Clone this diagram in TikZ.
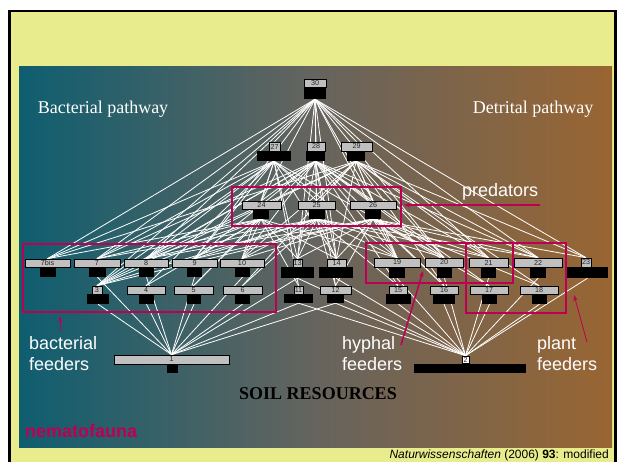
\documentclass[tikz,border=0pt]{standalone}
\usepackage{fontspec}
\setmainfont{Liberation Serif}
\setsansfont{Liberation Sans}
\usetikzlibrary{arrows.meta}
\definecolor{bgyellow}{RGB}{232,236,140}
\definecolor{tealL}{RGB}{14,94,112}
\definecolor{midC}{RGB}{102,100,94}
\definecolor{brownR}{RGB}{153,101,50}
\definecolor{mag}{RGB}{190,0,85}
\definecolor{boxgray}{RGB}{192,192,192}
\definecolor{numgray}{RGB}{40,40,40}
\pgfdeclarelayer{bglayer}
\pgfdeclarelayer{weblayer}
\pgfsetlayers{bglayer,weblayer,main}
\begin{document}
\begin{tikzpicture}[x=1pt,y=-1pt,
  graybox/.style={draw=black, line width=0.7pt, fill=boxgray, inner sep=0pt,
    font=\sffamily\fontsize{7.2}{7.2}\selectfont, text=numgray},
  blackbox/.style={fill=black, inner sep=0pt},
  web/.style={white, line width=0.8pt},
  groupbox/.style={draw=mag, line width=1.6pt},
  magarrow/.style={draw=mag, -{Stealth[length=6pt,width=4.5pt]}},
  bigserif/.style={font=\fontsize{18}{18}\selectfont, text=white, inner sep=0pt},
  bigsans/.style={font=\sffamily\fontsize{18}{18}\selectfont, text=white, inner sep=0pt, anchor=base west},
]
\useasboundingbox (0,0) rectangle (618,461);
\begin{pgfonlayer}{bglayer}
  \fill[white] (0,0) rectangle (618,461);
  \filldraw[fill=bgyellow, draw=black, line width=2.3pt] (9.5,11) rectangle (615.5,475);
  \shade[left color=tealL, right color=brownR, middle color=midC] (19,66) rectangle (612,447);
\end{pgfonlayer}

% nodes: name / gray x,y,w,h / black x,y,w,h
\foreach \n/\gx/\gy/\gw/\gh/\bx/\by/\bw/\bh in {
  30/315/83/22/8/315/93/22/12,
  27/274.5/146.5/11/9/274/156/34/10,
  28/316/146.5/18/9/315.5/156/19/10,
  29/356.5/146.5/31/9/356/156/18/10,
  24/261.5/205/39/8/261/214/16/10,
  25/316.5/205/37/8/317/214/16/10,
  26/373/205/46/8/373/214/16/10,
  7bis/47.5/263/45/8/48/272/16/10,
  7/97/263/46/8/97.5/272/17/10,
  8/146/263/44/8/146.5/272/15/10,
  9/194.5/263/45/8/194.5/272/15/10,
  10/242/263/44/8/242.5/272/15/10,
  13/297.5/263/9/8/297.5/272.5/33/11,
  14/336.5/263/19/8/336/272.5/34/11,
  19/397/262.5/46/9/397/272.5/16/11,
  20/444/262.5/38/9/444.5/272.5/15/11,
  21/488.5/262.5/39/9/488.5/272.5/15/11,
  22/538/262.5/48/9/538/272.5/16/11,
  23/586/262.5/10/9/587.5/272.5/41/11,
  3/97/290/10/8/98/299/22/10,
  4/146/290/38/8/146.5/299/15/10,
  5/193.5/290/39/8/194/299/14/10,
  6/242.5/290/39/8/242.5/299/15/10,
  11/298.5/290/9/8/298.5/298.5/29/9,
  12/335.5/290/31/8/335.5/298.5/17/9,
  15/398/290/18/8/398.5/299/25/10,
  16/444/290/28/8/444/299/22/10,
  17/489/290/38/8/489.5/299/15/10,
  18/539/290/38/8/539.5/299/15/10,
  1/171.5/359.5/115/9/172.5/368.5/11/9}
{
  \node[blackbox, minimum width=\bw pt, minimum height=\bh pt] (b\n) at (\bx,\by) {};
  \node[graybox, minimum width=\gw pt, minimum height=\gh pt] (g\n) at (\gx,\gy) {\n};
}
\node[blackbox, minimum width=112pt, minimum height=9pt] (b2) at (470,368.5) {};
\node[graybox, fill=white, minimum width=7pt, minimum height=7pt] (g2) at (465.5,359.5) {2};

% food web links
\begin{pgfonlayer}{weblayer}
  \foreach \p/\qs in {
    30/{27,28,29,24,25,26,7bis,7,8,9,3,13,14,19,20,21,22,23},
    27/{24,25,7bis,7,8,9,10,3,4,13,14,11,19,20},
    28/{24,25,26,7,8,9,10,3,5,13,14,12,19,20,21,22,15,16,17},
    29/{25,26,7bis,8,10,3,6,14,19,20,21,22,23,16,18},
    24/{7bis,7,8,9,10,3,4,5,13,14,11,19},
    25/{7,8,9,10,3,6,13,14,12,19,20,21,22,15},
    26/{8,9,10,3,13,14,12,19,20,21,22,23,16,17,18}}
  {
    \foreach \q in \qs { \draw[web] (b\p.south) -- (g\q.north); }
  }
  \foreach \q in {3,4,5,6,7,8,9,10,11,12,13}
    { \draw[web] (b\q.south) -- (g1.north); }
  \foreach \q in {11,12,13,14,15,16,17,18,19,20,21,22,23}
    { \draw[web] (b\q.south) -- (g2.north); }
\end{pgfonlayer}

% group boxes
\draw[groupbox] (232,187) rectangle (401,226);
\draw[groupbox] (23,244) rectangle (276,312);
\draw[groupbox] (366,243) rectangle (513,283);
\draw[groupbox] (466,243) rectangle (566,313);

% labels
\node[bigserif, anchor=base] (bact) at (103,113) {Bacterial pathway};
\node[bigserif, anchor=base] (detr) at (533,113) {Detrital pathway};
\node[bigsans] (pred) at (462,196) {predators};
\node[bigsans] (bf1) at (29,349) {bacterial};
\node[bigsans] (bf2) at (29,370) {feeders};
\node[bigsans] (hf1) at (342,349) {hyphal};
\node[bigsans] (hf2) at (342,370) {feeders};
\node[bigsans] (pf1) at (537,349) {plant};
\node[bigsans] (pf2) at (537,370) {feeders};
\node[font=\bfseries\fontsize{18}{18}\selectfont, anchor=base, inner sep=0pt] (soil) at (318,399) {SOIL RESOURCES};
\node[font=\sffamily\bfseries\fontsize{18}{18}\selectfont, text=mag, anchor=base west, inner sep=0pt] (nema) at (25,437) {nematofauna};
\node[font=\sffamily\fontsize{12}{12}\selectfont, anchor=base east, inner sep=0pt] (ref) at (609,458) {\itshape Naturwissenschaften\/\upshape\ (2006) \textbf{93}: modified};

% annotation arrows
\coordinate (bfa) at (60,331); \coordinate (bfb) at (60,316);
\coordinate (pra) at (540,205); \coordinate (prb) at (404,205);
\coordinate (hfa) at (401,345); \coordinate (hfb) at (423,271);
\coordinate (pfa) at (587,342); \coordinate (pfb) at (574,295);
\draw[magarrow, line width=0.8pt] (bfa) -- (bfb);
\draw[magarrow, line width=1.2pt] (pra) -- (prb);
\draw[magarrow, line width=1.5pt] (hfa) -- (hfb);
\draw[magarrow, line width=0.8pt] (pfa) -- (pfb);
\end{tikzpicture}
\end{document}
